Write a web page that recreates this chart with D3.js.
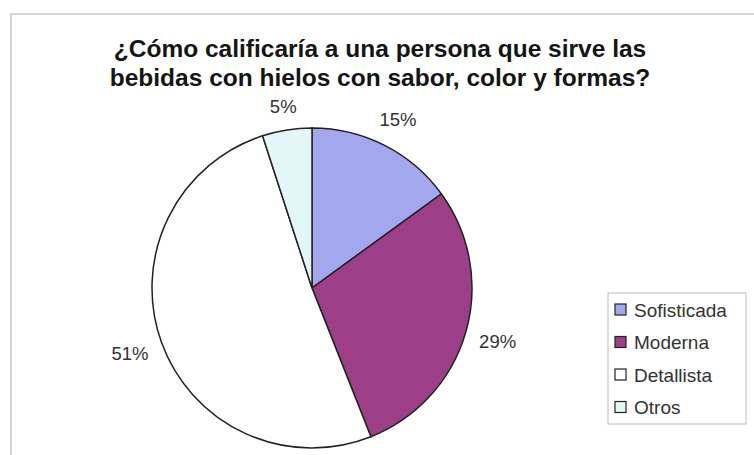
<!DOCTYPE html>
<html>
<head>
<meta charset="utf-8">
<script src="https://cdn.jsdelivr.net/npm/d3@7"></script>
<style>
  body { margin: 0; background: #fff; }
  svg { display: block; font-family: "Liberation Sans", Arial, sans-serif; }
</style>
</head>
<body>
<svg id="chart" width="754" height="455"></svg>
<script>
var categories = ["Sofisticada", "Moderna", "Detallista", "Otros"];
var values = [15, 29, 51, 5];
var colors = ["#A3A8EE", "#9C3F88", "#FFFFFF", "#E4F7F8"];
var titleLines = ["¿Cómo calificaría a una persona que sirve las",
                  "bebidas con hielos con sabor, color y formas?"];

var svg = d3.select("#chart"),
    cx = 312, cy = 288, radius = 160;

// outer chart frame (runs off the right and bottom edges)
svg.append("rect")
    .attr("x", 11)
    .attr("y", 14)
    .attr("width", 760)
    .attr("height", 460)
    .attr("fill", "#fff")
    .attr("stroke", "#c8c8c8")
    .attr("stroke-width", 1.5);

svg.append("g")
    .selectAll("text")
    .data(titleLines)
    .enter().append("text")
      .attr("x", 380)
      .attr("y", function(d, i) { return 57 + i * 29; })
      .attr("text-anchor", "middle")
      .attr("font-size", "24.5px")
      .attr("font-weight", "bold")
      .attr("fill", "#151515")
      .text(function(d) { return d; });

var data = categories.map(function(c, i) { return {name: c, value: values[i]}; });

var pie = d3.pie()
    .sort(null)
    .value(function(d) { return d.value; });

var arc = d3.arc()
    .innerRadius(0)
    .outerRadius(radius);

var z = d3.scaleOrdinal()
    .domain(categories)
    .range(colors);

var g = svg.append("g")
    .attr("transform", "translate(" + cx + "," + cy + ")");

var arcs = pie(data);

g.selectAll("path")
    .data(arcs)
    .enter().append("path")
      .attr("d", arc)
      .attr("fill", function(d) { return z(d.data.name); })
      .attr("stroke", "#222")
      .attr("stroke-width", 1.5);

// labels sit just outside the rim, pushed out by half their box size
var pad = 13, boxH = 18;
g.selectAll(".lbl")
    .data(arcs)
    .enter().append("text")
      .attr("class", "lbl")
      .attr("dy", "0.35em")
      .attr("text-anchor", "middle")
      .attr("font-size", "18.5px")
      .attr("fill", "#333")
      .text(function(d) { return d.data.value + "%"; })
      .attr("transform", function(d) {
        var a = (d.startAngle + d.endAngle) / 2,
            s = Math.sin(a), c = -Math.cos(a),
            w = this.getComputedTextLength(),
            r = radius + pad + Math.abs(s) * w / 2 + Math.abs(c) * boxH / 2;
        return "translate(" + (r * s) + "," + (r * c) + ")";
      });

// legend
var lx = 608, ly = 293;
svg.append("rect")
    .attr("x", lx)
    .attr("y", ly)
    .attr("width", 138)
    .attr("height", 131)
    .attr("fill", "#fff")
    .attr("stroke", "#bbb")
    .attr("stroke-width", 1);

var legend = svg.append("g")
    .selectAll("g")
    .data(categories)
    .enter().append("g")
      .attr("transform", function(d, i) { return "translate(" + (lx + 7) + "," + (ly + 17 + i * 32.5) + ")"; });

legend.append("rect")
    .attr("x", 0)
    .attr("y", -6)
    .attr("width", 11)
    .attr("height", 11)
    .attr("fill", z)
    .attr("stroke", "#222")
    .attr("stroke-width", 1.2);

legend.append("text")
    .attr("x", 19)
    .attr("y", 0)
    .attr("dy", "0.35em")
    .attr("font-size", "19px")
    .attr("fill", "#333")
    .text(function(d) { return d; });
</script>
</body>
</html>
